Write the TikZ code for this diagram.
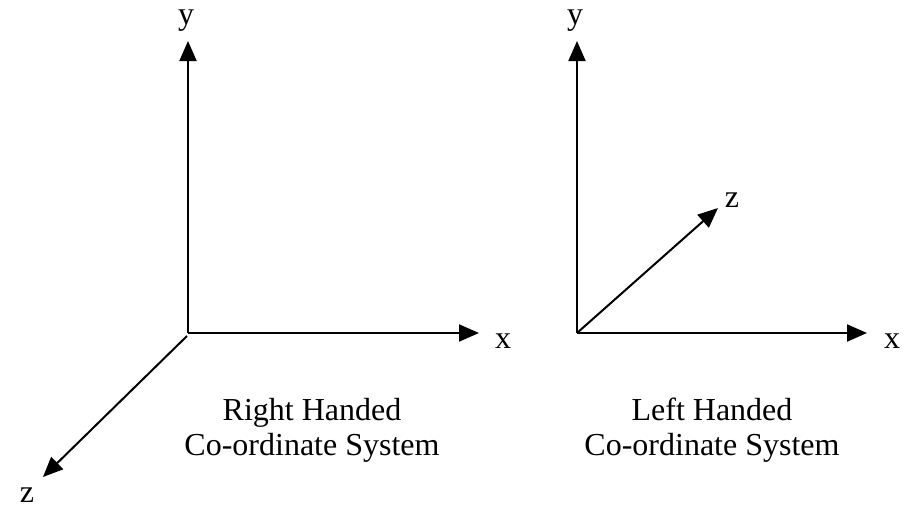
\documentclass[tikz,border=0pt]{standalone}
\usepackage{fontspec}
\setmainfont{Liberation Serif}
\usetikzlibrary{arrows.meta}
\begin{document}
\begin{tikzpicture}[x=1pt,y=-1pt,
  axis/.style={line width=2pt,-{Triangle[length=20pt,width=17pt]}},
  plainline/.style={line width=2pt},
  lbl/.style={inner sep=0pt,font=\fontsize{32}{35}\selectfont},
  caption/.style={inner sep=0pt,anchor=base,font=\fontsize{32}{35}\selectfont}]
\useasboundingbox (0,0) rectangle (905,506);
% right handed
\coordinate (o1) at (188,333);
\coordinate (o1z) at (187,336);
\coordinate (y1) at (188,41);
\coordinate (x1) at (479,333);
\coordinate (z1) at (43,477);
\draw[axis] (o1) -- (y1);
\draw[axis] (o1) -- (x1);
\draw[axis] (o1z) -- (z1);
\node[lbl] (ly1) at (186,21) {y};
\node[lbl] (lx1) at (503,341) {x};
\node[lbl] (lz1) at (27,495) {z};
\node[caption] (c1a) at (312,420) {Right Handed};
\node[caption] (c1b) at (312,455) {Co-ordinate System};
% left handed
\coordinate (o2) at (577,333);
\coordinate (y2) at (577,41);
\coordinate (x2) at (867,333);
\coordinate (z2) at (718,208);
\draw[axis] (o2) -- (y2);
\draw[axis] (o2) -- (x2);
\draw[axis] (o2) -- (z2);
\node[lbl] (ly2) at (575,21) {y};
\node[lbl] (lx2) at (892,341) {x};
\node[lbl] (lz2) at (732,200) {z};
\node[caption] (c2a) at (712,420) {Left Handed};
\node[caption] (c2b) at (712,455) {Co-ordinate System};
\end{tikzpicture}
\end{document}
